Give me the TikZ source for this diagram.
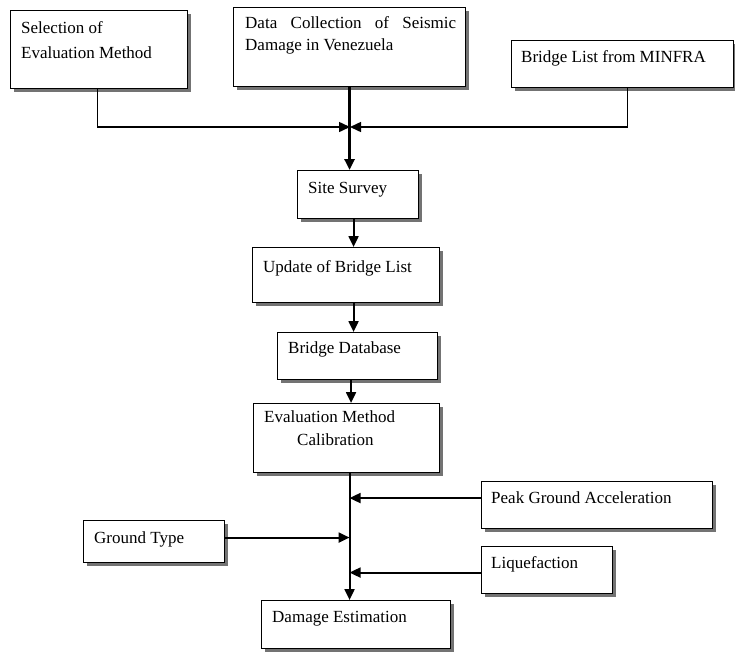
\documentclass[tikz,border=0pt]{standalone}
\usepackage{fontspec}
\setmainfont{Liberation Serif}
\usetikzlibrary{arrows.meta,shadows,calc}
\begin{document}
\begin{tikzpicture}[x=1pt,y=-1pt,
 box/.style={draw, line width=1.1pt, fill=white, anchor=north west, inner sep=0pt,
   drop shadow={shadow xshift=3pt, shadow yshift=-3pt, fill=black!55, opacity=1}},
 txt/.style={anchor=base west, inner sep=0pt, font=\fontsize{17}{20}\selectfont},
 arr/.style={-{Triangle[length=11pt,width=10pt]}, line width=2pt},
 thinarr/.style={-{Triangle[length=11pt,width=10pt]}, line width=1.5pt},
 thickarr/.style={-{Triangle[length=11pt,width=10pt]}, line width=3pt},
]
\useasboundingbox (0,0) rectangle (735,651);

% boxes
\node[box, minimum width=177pt, minimum height=78pt] (sel) at (10,10) {};
\node[box, minimum width=232pt, minimum height=79pt] (dc) at (233,7) {};
\node[box, minimum width=222pt, minimum height=47pt] (minfra) at (511,40) {};
\node[box, minimum width=121pt, minimum height=48pt] (ss) at (297,170) {};
\node[box, minimum width=187pt, minimum height=55pt] (upd) at (252,247) {};
\node[box, minimum width=160pt, minimum height=47pt] (db) at (277,332) {};
\node[box, minimum width=186pt, minimum height=69pt] (eval) at (253,403) {};
\node[box, minimum width=231pt, minimum height=47pt] (pga) at (481,481) {};
\node[box, minimum width=131pt, minimum height=47pt] (liq) at (481,546) {};
\node[box, minimum width=141pt, minimum height=42pt] (gt) at (83,520) {};
\node[box, minimum width=189pt, minimum height=48pt] (dmg) at (261,600) {};

% texts
\node[txt] (t1a) at (21,33) {Selection of};
\node[txt] (t1b) at (21,58) {Evaluation Method};
\node[txt] (t2a) at (245,28) {\makebox[211pt][s]{Data Collection of Seismic}};
\node[txt] (t2b) at (245,50) {Damage in Venezuela};
\node[txt] (t3) at (521,62) {Bridge List from MINFRA};
\node[txt] (t4) at (308,193) {Site Survey};
\node[txt] (t5) at (263,272) {Update of Bridge List};
\node[txt] (t6) at (288,353) {Bridge Database};
\node[txt] (t7a) at (264,422) {Evaluation Method};
\node[txt] (t7b) at (297,445) {Calibration};
\node[txt] (t8) at (491,503) {Peak Ground Acceleration};
\node[txt] (t9) at (491,568) {Liquefaction};
\node[txt] (t10) at (94,543) {Ground Type};
\node[txt] (t11) at (272,622) {Damage Estimation};

% connectors
\coordinate (m) at (350,127);
\draw[thinarr] ([xshift=-1.5pt]sel.south) |- (m);
\draw[thinarr] ([xshift=5pt]minfra.south) |- (m);
\draw[thickarr] (dc.south) -- (dc.south |- ss.north);
\coordinate (a1) at ([xshift=-4.5pt]ss.south);
\draw[arr] (a1) -- (a1 |- upd.north);
\coordinate (a2) at ([xshift=7.5pt]upd.south);
\draw[arr] (a2) -- (a2 |- db.north);
\coordinate (a3) at ([xshift=-6.5pt]db.south);
\draw[arr] (a3) -- (a3 |- eval.north);
\coordinate (tr) at ([xshift=3pt]eval.south);
\draw[arr] (tr) -- (tr |- dmg.north);
\coordinate (pgain) at ([yshift=7pt]pga.west);
\draw[arr] (pgain) -- (pgain -| tr);
\coordinate (liqin) at ([yshift=-2.5pt]liq.west);
\draw[arr] (liqin) -- (liqin -| tr);
\coordinate (gtout) at ([yshift=4pt]gt.east);
\draw[arr] (gtout) -- (gtout -| tr);
\end{tikzpicture}
\end{document}
